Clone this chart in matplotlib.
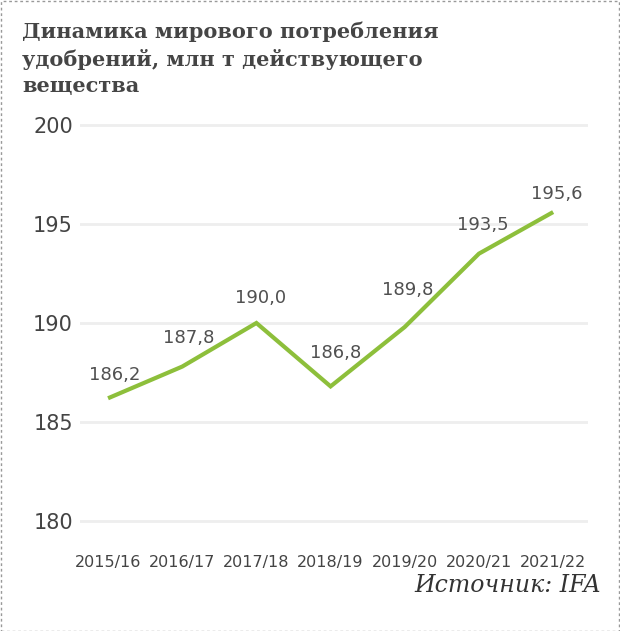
import matplotlib
matplotlib.use("Agg")
import matplotlib.pyplot as plt
from matplotlib.patches import Rectangle

categories = ["2015/16", "2016/17", "2017/18", "2018/19", "2019/20", "2020/21", "2021/22"]
values = [186.2, 187.8, 190.0, 186.8, 189.8, 193.5, 195.6]
value_labels = ["186,2", "187,8", "190,0", "186,8", "189,8", "193,5", "195,6"]
y_ticks = [180, 185, 190, 195, 200]
title = "Динамика мирового потребления\nудобрений, млн т действующего\nвещества"
source = "Источник: IFA"

# label offsets in pixels (style, not data)
label_dx = [7, 6, 4, 5, 3, 4, 4]
label_dy = [23, 29, 25, 33, 37, 29, 18]

W, H = 620, 631
fig = plt.figure(figsize=(W / 100, H / 100), dpi=100)
fig.patch.set_facecolor("white")

left_px, right_px = 80, 588
top_px, bot_px = 115, 531
ax = fig.add_axes([left_px / W, (H - bot_px) / H, (right_px - left_px) / W, (bot_px - top_px) / H])

x = list(range(len(categories)))
ax.plot(x, values, color="#8dbf3b", lw=3.0, solid_capstyle="butt", solid_joinstyle="miter", zorder=3)

for xi, v, lab, dx, dy in zip(x, values, value_labels, label_dx, label_dy):
    ax.annotate(lab, (xi, v), xytext=(dx, dy), textcoords="offset pixels",
                ha="center", va="center", fontsize=13, color="#505050",
                family="DejaVu Sans", zorder=4)

ax.set_xlim(-0.378, 6.47)
ax.set_ylim(179.5, 200.5)
ax.set_yticks(y_ticks)
ax.set_yticklabels([str(t) for t in y_ticks], fontsize=15, color="#444444")
ax.set_xticks(x)
ax.set_xticklabels(categories, fontsize=11.5, color="#444444")
ax.tick_params(axis="both", length=0)
ax.tick_params(axis="y", pad=5)
ax.tick_params(axis="x", pad=17)
for s in ax.spines.values():
    s.set_visible(False)
ax.grid(axis="y", color="#eeeeee", lw=2, zorder=0)
ax.set_axisbelow(True)

fig.text(22 / W, 1 - 21 / H, title, ha="left", va="top", fontsize=15,
         fontweight="bold", family="DejaVu Serif", color="#454545", linespacing=1.42)
fig.text(601 / W, 1 - 586 / H, source, ha="right", va="center", fontsize=17,
         style="italic", family="DejaVu Serif", color="#333333")

border = Rectangle((0.5 / W, 0.5 / H), 1 - 1.5 / W, 1 - 1.5 / H, transform=fig.transFigure,
                   fill=False, edgecolor="#999999", lw=1, linestyle=(0, (2, 2)))
fig.patches.append(border)

fig.savefig("out.png", dpi=100, facecolor="white")
